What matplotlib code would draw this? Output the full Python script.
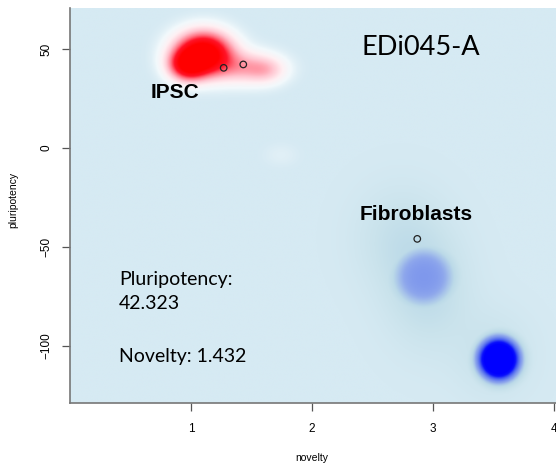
import numpy as np
import matplotlib
matplotlib.use("Agg")
import matplotlib.pyplot as plt
from matplotlib.colors import LinearSegmentedColormap

# ---- data ----
x_range = (0.0, 4.1)
y_range = (-129.1, 70.9)
x_ticks = [1, 2, 3, 4]
y_ticks = [-100, -50, 0, 50]

# iPSC density blobs (centre x, centre y, sd x, sd y, peak)
ipsc_cx = [1.10, 0.97, 1.42, 1.62, 1.74]
ipsc_cy = [48.0, 42.0, 41.0, 39.5, -3.5]
ipsc_sx = [0.15, 0.10, 0.18, 0.11, 0.10]
ipsc_sy = [7.0, 5.0, 5.5, 4.5, 4.0]
ipsc_pk = [1.25, 0.80, 0.32, 0.20, 0.025]

# fibroblast density: broad halo blobs
fib_broad_cx = [2.72, 2.95, 3.50]
fib_broad_cy = [-45.0, -72.0, -105.0]
fib_broad_sx = [0.26, 0.24, 0.22]
fib_broad_sy = [18.0, 20.0, 15.0]
fib_broad_pk = [0.12, 0.17, 0.11]
# fibroblast core blobs (soft-capped plateau level)
fib_core_cx = [2.92, 3.54]
fib_core_cy = [-65.3, -107.0]
fib_core_sx = [0.15, 0.105]
fib_core_sy = [9.0, 6.6]
fib_core_pk = [0.90, 1.90]
fib_core_cap = [0.42, 1.00]

sample_x = [1.27, 1.432]
sample_y = [40.6, 42.323]
fibro_pt_x = [2.87]
fibro_pt_y = [-46.0]

bg = "#d6eaf3"

W, H = 556, 468
fig = plt.figure(figsize=(W / 100, H / 100), dpi=100)
ax = fig.add_axes([70 / W, 65 / H, (x_range[1] - x_range[0]) * 121 / W, 395 / H])
ax.set_facecolor(bg)

gx = np.linspace(x_range[0], x_range[1], 600)
gy = np.linspace(y_range[0], y_range[1], 600)
X, Y = np.meshgrid(gx, gy)

def gauss(a, b, s, t):
    return np.exp(-0.5 * (((X - a) / s) ** 2 + ((Y - b) / t) ** 2))

R = np.zeros_like(X)
for a, b, s, t, p in zip(ipsc_cx, ipsc_cy, ipsc_sx, ipsc_sy, ipsc_pk):
    R += p * gauss(a, b, s, t)
R = np.clip(R, 0, 1)

B = np.zeros_like(X)
for a, b, s, t, p in zip(fib_broad_cx, fib_broad_cy, fib_broad_sx, fib_broad_sy, fib_broad_pk):
    B += p * gauss(a, b, s, t)
for i, (a, b, s, t, p, c) in enumerate(zip(fib_core_cx, fib_core_cy, fib_core_sx,
                                           fib_core_sy, fib_core_pk, fib_core_cap)):
    v = p * gauss(a, b, s, t)
    v = c * np.tanh(v / c) if c < 1 else np.minimum(v, c)
    B = np.maximum(B, v)
B = np.clip(B, 0, 1)

red_cmap = LinearSegmentedColormap.from_list(
    "r", [(0, bg), (0.06, "#f2f9fc"), (0.15, "#fff0f3"), (0.3, "#ffc4cf"),
          (0.5, "#ff7484"), (0.7, "#ff1428"), (1, "#ff0000")])
blue_cmap = LinearSegmentedColormap.from_list(
    "b", [(0, bg), (0.1, "#cae3ec"), (0.2, "#bcdae8"), (0.28, "#a6c2ea"),
          (0.35, "#8ea7ec"), (0.42, "#7d96ed"), (0.6, "#4a62f0"),
          (0.8, "#0a10fc"), (1, "#0000ff")])

img = np.where((R > B)[..., None], red_cmap(R), blue_cmap(B))
ax.imshow(img, extent=[x_range[0], x_range[1], y_range[0], y_range[1]],
          origin="lower", aspect="auto", interpolation="bilinear", zorder=0)

ax.scatter(sample_x, sample_y, s=22, facecolors="none", edgecolors="#222222",
           linewidths=0.9, zorder=3)
ax.scatter(fibro_pt_x, fibro_pt_y, s=22, facecolors="none", edgecolors="#222222",
           linewidths=0.9, zorder=3)

ax.set_xlim(*x_range)
ax.set_ylim(*y_range)
ax.set_xticks(x_ticks)
ax.set_yticks(y_ticks)
ax.set_xticklabels([str(v).replace("-", "\u2212") for v in x_ticks],
                   fontsize=8.5, family="Liberation Sans")
ax.set_yticklabels([str(v).replace("-", "\u2212") for v in y_ticks],
                   fontsize=8.5, family="Liberation Sans", rotation=90, va="center")
ax.tick_params(axis="both", direction="out", length=5.5, width=0.9, color="#555555")
ax.tick_params(axis="x", pad=9)
ax.tick_params(axis="y", pad=7)
for s in ["top", "right"]:
    ax.spines[s].set_visible(False)
for s in ["left", "bottom"]:
    ax.spines[s].set_color("#777777")
    ax.spines[s].set_linewidth(1.2)

fig.text(13 / W, 1 - 200 / H, "pluripotency", rotation=90, ha="center", va="center",
         fontsize=7.5, family="Liberation Sans")
fig.text(312 / W, 1 - 458 / H, "novelty", ha="center", va="center",
         fontsize=7.5, family="Liberation Sans")

ax.text(0.87, 28.0, "IPSC", fontsize=15, fontweight="bold", family="Liberation Sans",
        ha="center", va="center")
ax.text(2.86, -33.5, "Fibroblasts", fontsize=15, fontweight="bold",
        family="Liberation Sans", ha="center", va="center")
ax.text(2.9, 51.0, "EDi045-A", fontsize=19.5, family="Lato", ha="center", va="center")

px2x = lambda px: (px - 69) / 121
py2y = lambda py: (148 - py) / 1.975
ax.text(px2x(118), py2y(285), "Pluripotency:", fontsize=14, family="Lato",
        ha="left", va="baseline")
ax.text(px2x(118), py2y(309), "42.323", fontsize=14, family="Lato",
        ha="left", va="baseline")
ax.text(px2x(118), py2y(362), "Novelty: 1.432", fontsize=14, family="Lato",
        ha="left", va="baseline")

fig.savefig("out.png", dpi=100)
